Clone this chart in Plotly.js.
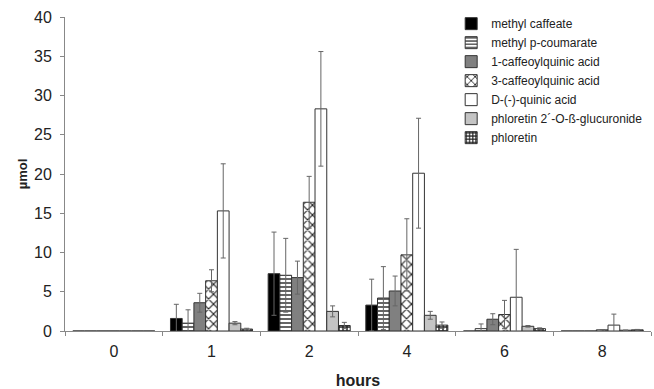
<!DOCTYPE html>
<html>
<head>
<meta charset="utf-8">
<script src="https://cdn.plot.ly/plotly-3.0.1.min.js"></script>
<style>html,body{margin:0;padding:0;background:#fff;}#chart{width:654px;height:389px;}</style>
</head>
<body>
<div id="chart"></div>
<script>
const hours = ['0', '1', '2', '4', '6', '8'];
const seriesNames = ['methyl caffeate', 'methyl p-coumarate', '1-caffeoylquinic acid', '3-caffeoylquinic acid', 'D-(-)-quinic acid', 'phloretin 2´-O-ß-glucuronide', 'phloretin'];

const methylCaffeate      = [0, 1.6, 7.3, 3.3, 0.0, 0.0];
const methylCaffeateErr   = [0, 1.8, 5.3, 3.3, 0.0, 0.0];
const methylCoumarate     = [0, 1.0, 7.1, 4.2, 0.3, 0.0];
const methylCoumarateErr  = [0, 1.7, 4.7, 4.0, 0.6, 0.0];
const caffeoyl1           = [0, 3.6, 6.8, 5.1, 1.5, 0.0];
const caffeoyl1Err        = [0, 1.2, 2.1, 1.9, 0.7, 0.0];
const caffeoyl3           = [0, 6.4, 16.4, 9.7, 2.1, 0.15];
const caffeoyl3Err        = [0, 1.4, 3.3, 4.6, 1.8, 0.0];
const quinic              = [0, 15.3, 28.3, 20.1, 4.3, 0.75];
const quinicErr           = [0, 6.0, 7.3, 7.0, 6.1, 1.4];
const glucuronide         = [0, 1.0, 2.5, 2.0, 0.6, 0.1];
const glucuronideErr      = [0, 0.2, 0.7, 0.5, 0.1, 0.0];
const phloretin           = [0, 0.25, 0.7, 0.75, 0.3, 0.15];
const phloretinErr        = [0, 0.1, 0.4, 0.4, 0.1, 0.05];

const values = [methylCaffeate, methylCoumarate, caffeoyl1, caffeoyl3, quinic, glucuronide, phloretin];
const errors = [methylCaffeateErr, methylCoumarateErr, caffeoyl1Err, caffeoyl3Err, quinicErr, glucuronideErr, phloretinErr];

const styles = [
  {color: '#000000', pattern: {shape: ''}},
  {color: '#ffffff', pattern: {shape: '-', fgcolor: '#222', bgcolor: '#fff', size: 4, solidity: 0.35, fillmode: 'replace'}},
  {color: '#808080', pattern: {shape: ''}},
  {color: '#ffffff', pattern: {shape: 'x', fgcolor: '#222', bgcolor: '#fff', size: 7, solidity: 0.3, fillmode: 'replace'}},
  {color: '#ffffff', pattern: {shape: ''}},
  {color: '#c4c4c4', pattern: {shape: ''}},
  {color: '#333333', pattern: {shape: '+', fgcolor: '#222', bgcolor: '#fff', size: 4, solidity: 0.6, fillmode: 'replace'}}
];

const traces = seriesNames.map((name, i) => ({
  type: 'bar',
  name: name,
  x: hours,
  y: values[i],
  marker: {
    color: styles[i].color,
    pattern: styles[i].pattern,
    line: {color: '#333', width: 1}
  },
  error_y: {type: 'data', array: errors[i], visible: true, color: '#666', thickness: 1, width: 2.5}
}));

const layout = {
  width: 654,
  height: 389,
  margin: {l: 65, r: 3, t: 17, b: 58},
  paper_bgcolor: '#fff',
  plot_bgcolor: '#fff',
  font: {family: '"Liberation Sans", Arial, sans-serif', color: '#222'},
  barmode: 'group',
  bargap: 0.16,
  bargroupgap: 0,
  showlegend: true,
  legend: {
    x: 0.659, xanchor: 'left', y: 1.025, yanchor: 'top',
    font: {size: 12, color: '#222'},
    bgcolor: 'rgba(0,0,0,0)',
    traceorder: 'normal'
  },
  xaxis: {
    type: 'category',
    categoryorder: 'array',
    categoryarray: hours,
    showline: true, linecolor: '#888', linewidth: 1,
    ticks: 'outside', ticklen: 4, tickcolor: '#888',
    tickson: 'boundaries',
    ticklabelstandoff: 6,
    showgrid: false, zeroline: false,
    tickfont: {size: 16},
    title: {text: '<b>hours</b>', font: {size: 16}, standoff: 16}
  },
  yaxis: {
    range: [0, 40], dtick: 5,
    showline: true, linecolor: '#888', linewidth: 1,
    ticks: 'outside', ticklen: 4, tickcolor: '#888',
    ticklabelstandoff: 5,
    showgrid: false, zeroline: false,
    tickfont: {size: 16},
    title: {text: '<b>µmol</b>', font: {size: 13}, standoff: 3}
  }
};

Plotly.newPlot('chart', traces, layout, {displayModeBar: false, staticPlot: true});
</script>
</body>
</html>
